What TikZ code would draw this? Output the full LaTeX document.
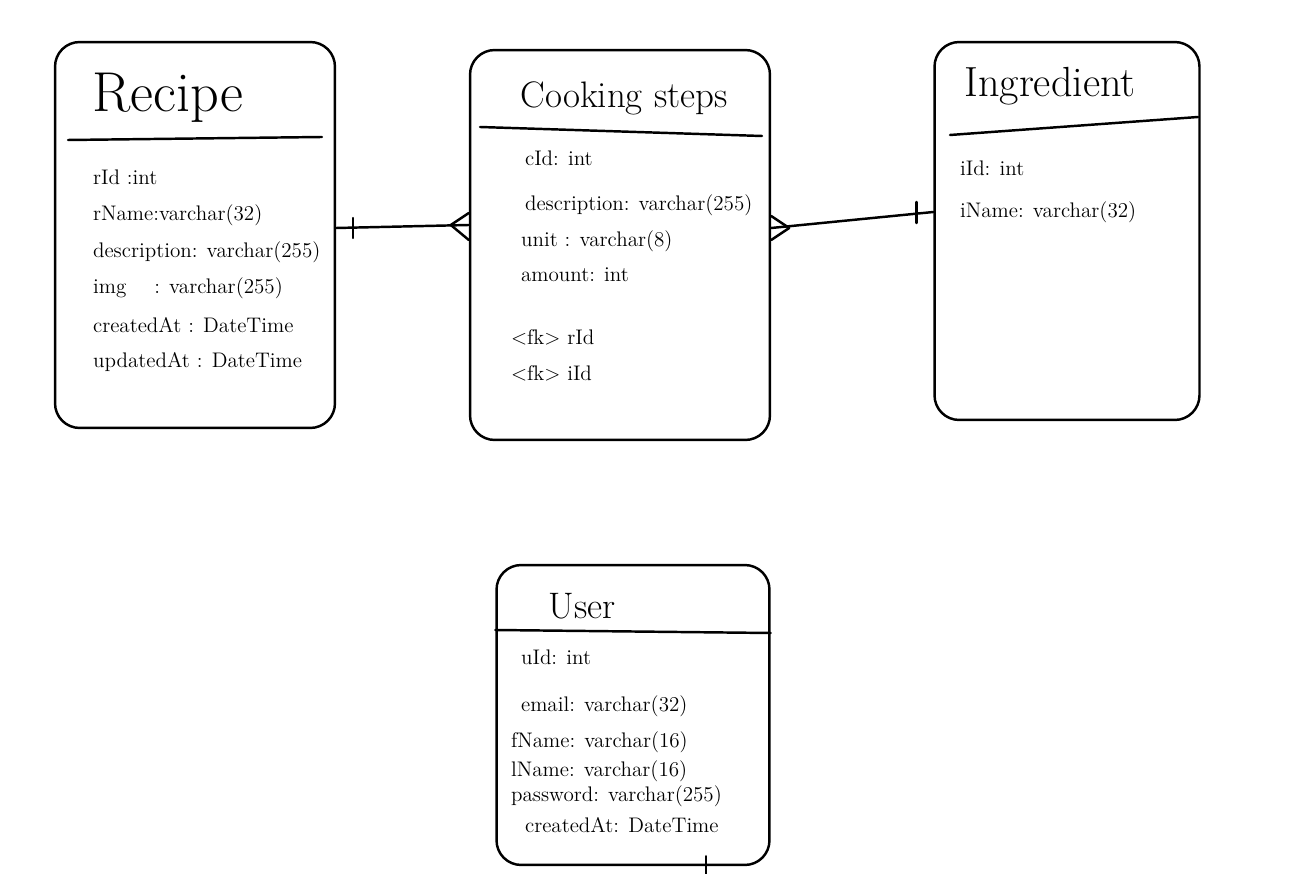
\documentclass[tikz,border=0pt]{standalone}
\usetikzlibrary{positioning,calc}

\begin{document}
\begin{tikzpicture}[x=0.02cm, y=-0.02cm, line width=1.4pt, line cap=round,
  entity/.style={draw, rounded corners=14pt, inner sep=0pt},
  attr/.style={anchor=west, font=\fontsize{12}{14}\selectfont},
  heading/.style={font=\fontsize{#1}{#1}\selectfont}]

\useasboundingbox (0,0) rectangle (1316,874);

% entities
\node[entity, minimum width=5.6cm, minimum height=7.72cm] (recipe) at (195,235) {};
\node[entity, minimum width=6cm, minimum height=7.8cm] (cook) at (620,245) {};
\node[entity, minimum width=5.3cm, minimum height=7.56cm] (ingr) at (1067,231) {};
\node[entity, minimum width=5.46cm, minimum height=6cm] (user) at (633,715) {};

% title lines
\draw (68,140) -- (322,137);
\draw (480,127) -- (762,136);
\draw (950,135) -- (1198,117);
\draw (user.west |- 0,630) -- (user.east |- 0,633);

% titles
\node[heading=32] (recipeT) at (168,98) {Recipe};
\node[heading=21] (cookT) at (624,98) {Cooking steps};
\node[heading=24] (ingrT) at (1050,86) {Ingredient};
\node[heading=21] (userT) at (582,606) {User};

% Recipe
\node[attr] (r1) at (86,177) {rId :int};
\node[attr] (r2) at (86,215) {rName:varchar(32)};
\node[attr] (r3) at (86,252) {description: varchar(255)};
\node[attr] (r4) at (86,288) {img\quad\ : varchar(255)};
\node[attr] (r5) at (86,325) {createdAt : DateTime};
\node[attr] (r6) at (86,362) {updatedAt : DateTime};

% Cooking steps
\node[attr] (c1) at (518,158) {cId: int};
\node[attr] (c2) at (518,205) {description: varchar(255)};
\node[attr] (c3) at (514,241) {unit : varchar(8)};
\node[attr] (c4) at (514,275) {amount: int};
\node[attr] (c5) at (504,337) {\textless fk\textgreater\ rId};
\node[attr] (c6) at (504,373) {\textless fk\textgreater\ iId};

% Ingredient
\node[attr] (i1) at (953,168) {iId: int};
\node[attr] (i2) at (953,212) {iName: varchar(32)};

% User
\node[attr] (u1) at (514,657) {uId: int};
\node[attr] (u2) at (514,706) {email: varchar(32)};
\node[attr] (u3) at (504,742) {fName: varchar(16)};
\node[attr] (u4) at (504,771) {lName: varchar(16)};
\node[attr] (u5) at (504,796) {password: varchar(255)};
\node[attr] (u6) at (518,825) {createdAt: DateTime};

% Recipe -- Cooking steps
\draw ($(recipe.east)+(0,-7)$) -- ($(cook.west)+(0,-20)$);
\draw ($(recipe.east)+(17,-17)$) -- ($(recipe.east)+(17,3)$);
\draw ($(cook.west)+(-18,-20)$) -- ($(cook.west)+(0,-32)$);
\draw ($(cook.west)+(-18,-20)$) -- ($(cook.west)+(0,-5)$);

% Cooking steps -- Ingredient
\draw ($(cook.east)+(0,-17)$) -- ($(ingr.west)+(0,-19)$);
\draw ($(cook.east)+(18,-17)$) -- ($(cook.east)+(0,-29)$);
\draw ($(cook.east)+(18,-17)$) -- ($(cook.east)+(0,-5)$);
\draw ($(ingr.west)+(-17,-29)$) -- ($(ingr.west)+(-17,-8)$);

% tick below User
\draw ($(user.south)+(73,-10)$) -- ($(user.south)+(73,12)$);
\end{tikzpicture}
\end{document}
